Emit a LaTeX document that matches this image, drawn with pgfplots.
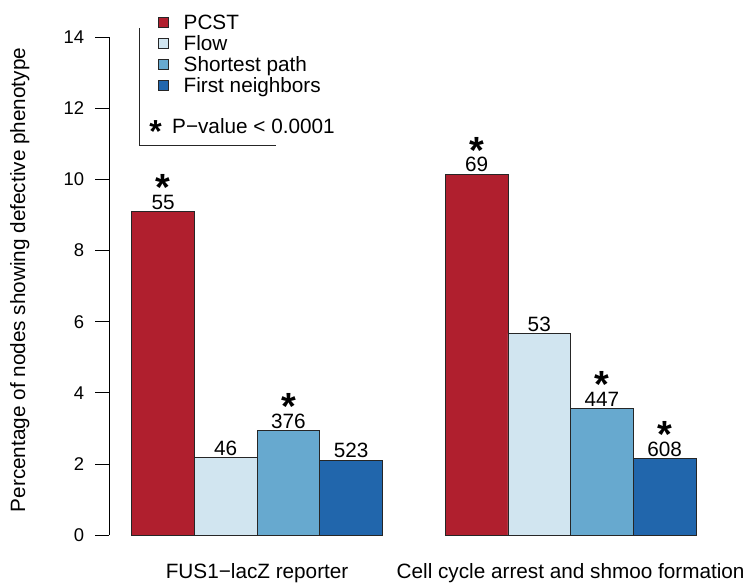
\documentclass[border=0pt]{standalone}
\usepackage{fontspec}
\setmainfont{Liberation Sans}
\usepackage{pgfplots}
\pgfplotsset{compat=1.18}
\definecolor{cPCST}{HTML}{B01F2E}
\definecolor{cFlow}{HTML}{D1E5F0}
\definecolor{cShort}{HTML}{67A9CF}
\definecolor{cFirst}{HTML}{2166AC}
\newcommand{\lbl}{\fontsize{20.8}{24}\selectfont}
\protected\def\st#1{\setbox0\hbox{#1}\rlap{\hbox to \wd0{\hss\raisebox{8.6bp}{\fontsize{38}{38}\selectfont\bfseries *}\hss}}\box0}
\begin{document}
\begin{tikzpicture}
\begin{axis}[
  scale only axis, width=618bp, height=497.7bp,
  xmin=0.643, xmax=10.5, ymin=0, ymax=14,
  axis y line*=left, axis x line*=bottom,
  x axis line style={draw=none},
  y axis line style={line width=0.8bp, black},
  ytick={0,2,...,14},
  ytick align=outside, major tick length=14bp,
  ytick style={line width=0.8bp, black},
  yticklabel style={font=\fontsize{18.5}{20}\selectfont, anchor=east, inner sep=0pt, xshift=-11bp},
  /pgf/number format/assume math mode=true,
  xtick={3,8}, xtick style={draw=none},
  xticklabels={FUS1−lacZ reporter, Cell cycle arrest and shmoo formation},
  xticklabel style={font=\lbl, anchor=base, inner sep=0pt, yshift=-29.5bp},
  every axis y label/.style={at={(axis description cs:-0.1364,0.5124)}, rotate=90, anchor=base, inner sep=0pt, font=\lbl},
  ylabel={Percentage of nodes showing defective phenotype},
  ybar, bar width=1, bar shift=0pt,
  clip=false,
  nodes near coords, point meta=explicit symbolic,
  every node near coord/.append style={font=\lbl, anchor=base, inner sep=0pt, yshift=2.3bp},
  legend style={at={(axis cs:1.4195,14.647)}, anchor=north west, draw=none, fill=none,
    inner sep=0pt, outer sep=0pt, row sep=1.5bp, font=\lbl,
    nodes={inner sep=0pt, text height=15bp, text depth=4.5bp},
    /tikz/every odd column/.append style={column sep=15bp}},
  legend cell align=left,
  legend image code/.code={\draw[#1,line width=0.7bp] (0bp,-3.5bp) rectangle (10bp,6.5bp);},
]
\addplot[fill=cPCST, draw=black!85, line width=0.8bp] coordinates {(1.5,9.09) [\st{55}] (6.5,10.15) [\st{69}]};
\addlegendentry{PCST}
\addplot[fill=cFlow, draw=black!85, line width=0.8bp] coordinates {(2.5,2.17) [46] (7.5,5.67) [53]};
\addlegendentry{Flow}
\addplot[fill=cShort, draw=black!85, line width=0.8bp] coordinates {(3.5,2.93) [\st{376}] (8.5,3.56) [\st{447}]};
\addlegendentry{Shortest path}
\addplot[fill=cFirst, draw=black!85, line width=0.8bp] coordinates {(4.5,2.11) [523] (9.5,2.15) [\st{608}]};
\addlegendentry{First neighbors}
\draw[line width=0.8bp, black!85] (axis cs:1.1212,14.262) -- (axis cs:1.1212,10.951) -- (axis cs:3.2967,10.951);
\node[anchor=base west, inner sep=0pt, font=\lbl] at (axis cs:1.28,11.30) {\raisebox{-9.4bp}{\fontsize{32}{32}\selectfont\bfseries *}};
\node[anchor=base west, inner sep=0pt, font=\lbl] at (axis cs:1.6427,11.30) {P−value < 0.0001};
\coordinate (TL) at (axis cs:-1.1005,15.049);
\coordinate (BR) at (axis cs:10.8931,-1.3502);
\end{axis}
\pgfresetboundingbox
\path[use as bounding box] (TL) rectangle (BR);
\end{tikzpicture}
\end{document}
